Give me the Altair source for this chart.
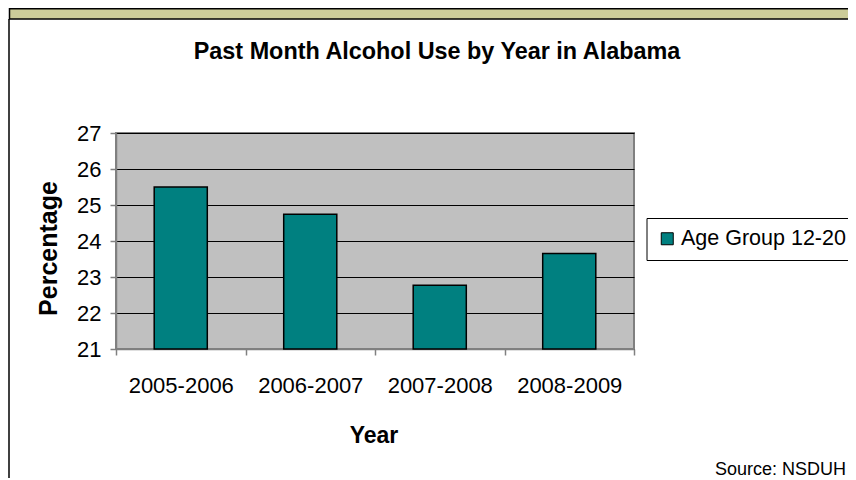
import altair as alt
import pandas as pd

# ---- data ----
years = ["2005-2006", "2006-2007", "2007-2008", "2008-2009"]
values = [25.5, 24.74, 22.77, 23.65]
series_name = "Age Group 12-20"
y_ticks = [21, 22, 23, 24, 25, 26, 27]

title_text = "Past Month Alcohol Use by Year in Alabama"
source_text = "Source: NSDUH"

df = pd.DataFrame({"year": years, "value": values, "series": [series_name] * len(years)})
deco = pd.DataFrame({"k": [0]})

FONT = "Liberation Sans"

bars = alt.Chart(df).mark_bar(
    width={"band": 0.41}, stroke="black", strokeWidth=1.5
).encode(
    x=alt.X(
        "year:N",
        sort=years,
        scale=alt.Scale(paddingInner=0, paddingOuter=0),
        axis=alt.Axis(
            title="Year",
            titleFontSize=23,
            titleFontWeight="bold",
            titleColor="black",
            titleX=257.5,
            titleY=93,
            titleBaseline="alphabetic",
            titleAlign="center",
            labelAngle=0,
            labelFontSize=22,
            labelColor="black",
            labelBaseline="alphabetic",
            labelPadding=37.5,
            tickBand="extent",
            tickSize=6,
            tickColor="#808080",
            tickWidth=1.5,
            domainColor="#808080",
            domainWidth=1.5,
            grid=False,
        ),
    ),
    y=alt.Y(
        "value:Q",
        scale=alt.Scale(domain=[y_ticks[0], y_ticks[-1]], zero=False, nice=False),
        axis=alt.Axis(
            title="Percentage",
            titleFontSize=25,
            titleFontWeight="bold",
            titleColor="black",
            titleAngle=270,
            titleX=-60,
            titleY=115,
            titleAlign="center",
            titleBaseline="alphabetic",
            values=y_ticks,
            labelFontSize=22,
            labelColor="black",
            labelPadding=9,
            labelBaseline="middle",
            tickSize=6,
            tickColor="#808080",
            tickWidth=1.5,
            domainColor="#808080",
            domainWidth=1.5,
            grid=True,
            gridColor="#000000",
            gridWidth=1,
        ),
    ),
    y2=alt.Y2(datum=y_ticks[0]),
    color=alt.Color(
        "series:N",
        scale=alt.Scale(range=["#008080"]),
        legend=alt.Legend(
            title=None,
            orient="none",
            legendX=530.5,
            legendY=85,
            symbolType="square",
            symbolSize=144,
            symbolStrokeColor="black",
            symbolStrokeWidth=1,
            labelFontSize=21.5,
            labelColor="black",
            labelOffset=3,
            labelLimit=0,
            strokeColor="black",
            fillColor="white",
            padding=10,
        ),
    ),
)

band = alt.Chart(deco).mark_rect(fill="#CCCC99", stroke="black", strokeWidth=1.5).encode(
    x=alt.value(-106.5), x2=alt.value(745), y=alt.value(-124.2), y2=alt.value(-114)
)
frame = alt.Chart(deco).mark_rule(color="black", strokeWidth=1.5).encode(
    x=alt.value(-107), y=alt.value(-114), y2=alt.value(360)
)
title = alt.Chart(deco).mark_text(
    text=title_text, fontSize=23.4, fontWeight="bold", align="center",
    baseline="alphabetic", color="black", font=FONT
).encode(x=alt.value(321), y=alt.value(-74))
source = alt.Chart(deco).mark_text(
    text=source_text, fontSize=18, align="right", baseline="alphabetic",
    color="black", font=FONT
).encode(x=alt.value(730), y=alt.value(342))

chart = alt.layer(bars, band, frame, title, source).properties(
    width=518,
    height=216,
    padding={"left": 108, "top": 125, "right": 214, "bottom": 129},
    autosize=alt.AutoSizeParams(type="none"),
    background="white",
).configure(font=FONT).configure_view(
    fill="#C0C0C0", stroke="#808080", strokeWidth=2
)

chart.save("out.html", embed_options={"renderer": "svg", "actions": False})
